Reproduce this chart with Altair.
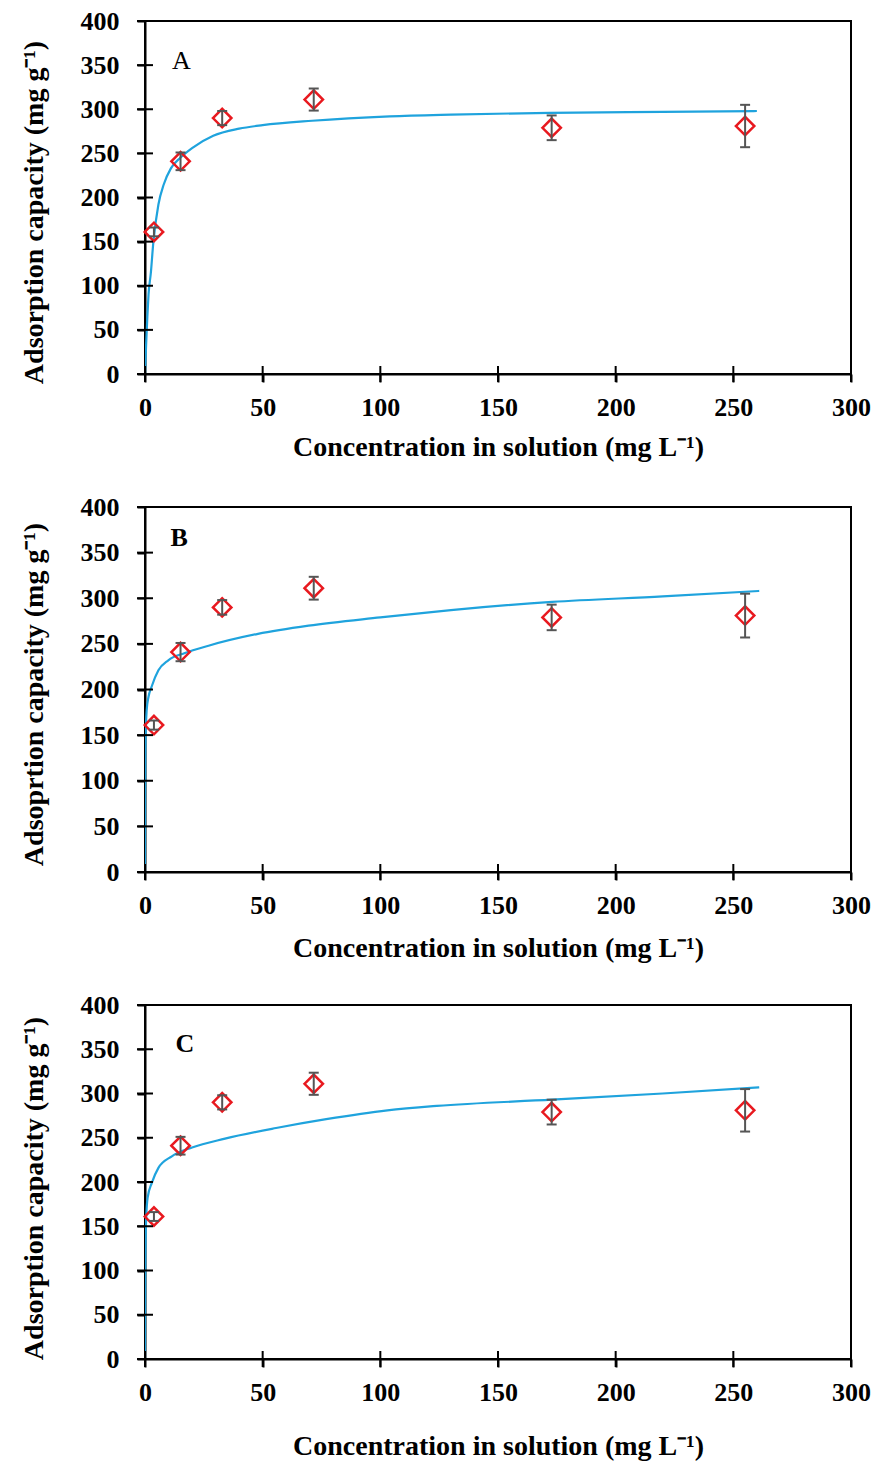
import altair as alt
import pandas as pd

# Measured equilibrium data (same set shown in every panel)
CONC = [3.8, 15.1, 32.8, 71.7, 172.8, 255.0]
QE = [161, 241, 290, 311, 279, 281]
QE_SD = [5, 10, 8, 12.5, 14, 24]

# Fitted isotherm curves, sampled along the concentration axis
FIT_A_C = [0, 0.5, 1, 1.5, 2.5, 3.5, 5.7, 8, 11, 15, 20, 29, 40, 50, 71, 104, 130, 172, 220, 260]
FIT_A_Q = [0, 35, 65, 90, 115, 148, 192, 215, 233, 245, 256, 270, 278, 282, 287, 292, 294, 296, 297, 298]

FIT_B_C = [0, 0.05, 0.15, 0.4, 0.7, 1.5, 2.8, 5.7, 9.9, 17, 27, 48, 69.5, 100, 130, 173, 220, 261]
FIT_B_Q = [0, 80, 130, 160, 177, 192, 203, 221, 232, 240, 248, 261, 270, 279, 287, 296, 302, 308]

FIT_C_C = [0, 0.1, 0.3, 0.6, 1.1, 2.9, 5.7, 11.4, 20, 34, 55.7, 77, 103, 124, 173, 220, 261]
FIT_C_Q = [0, 90, 140, 165, 182, 199, 216, 229, 239, 249, 261, 271, 281, 286, 293, 300, 307]

X_TICKS = [0, 50, 100, 150, 200, 250, 300]
Y_TICKS = [0, 50, 100, 150, 200, 250, 300, 350, 400]

FONT = "Liberation Serif"
BLUE = "#1fa3dd"
RED = "#e8191f"
GREY = "#555555"
PLOT_W = 706
X_TITLE = "Concentration  in solution (mg L\u207b\u00b9)"


def panel(fit_c, fit_q, letter, letter_c, letter_q, letter_weight, y_title,
          height, x_title_pad, y_title_pos):
    pts = pd.DataFrame({
        "c": CONC,
        "q": QE,
        "lo": [q - s for q, s in zip(QE, QE_SD)],
        "hi": [q + s for q, s in zip(QE, QE_SD)],
    })
    fit = pd.DataFrame({"c": fit_c, "q": fit_q})
    xs = alt.Scale(domain=[0, 300], nice=False, zero=True)
    ys = alt.Scale(domain=[0, 400], nice=False, zero=True)

    x_axis = alt.Axis(values=X_TICKS, title=X_TITLE, labelPadding=12,
                      titlePadding=x_title_pad)
    y_axis = alt.Axis(values=Y_TICKS, title=y_title, labelPadding=18,
                      titlePadding=32, titleY=y_title_pos)

    def xenc(field):
        return alt.X(field, scale=xs, axis=x_axis)

    def yenc(field):
        return alt.Y(field, scale=ys, axis=y_axis)

    curve = alt.Chart(fit).mark_line(
        color=BLUE, strokeWidth=2.2, interpolate="monotone", clip=True
    ).encode(x=xenc("c:Q"), y=yenc("q:Q"))

    bars = alt.Chart(pts).mark_rule(color=GREY, strokeWidth=2).encode(
        x=xenc("c:Q"), y=yenc("lo:Q"), y2="hi:Q",
    )
    cap_hi = alt.Chart(pts).mark_tick(
        orient="horizontal", size=10, thickness=2, color=GREY, opacity=1
    ).encode(x=xenc("c:Q"), y=yenc("hi:Q"))
    cap_lo = alt.Chart(pts).mark_tick(
        orient="horizontal", size=10, thickness=2, color=GREY, opacity=1
    ).encode(x=xenc("c:Q"), y=yenc("lo:Q"))
    diamonds = alt.Chart(pts).mark_point(
        shape="diamond", size=340, filled=False, color=RED, strokeWidth=2.5, opacity=1
    ).encode(x=xenc("c:Q"), y=yenc("q:Q"))

    # inner halves of the cross-style tick marks on both axes
    y_ticks = alt.Chart(pd.DataFrame({"v": Y_TICKS})).mark_tick(
        orient="horizontal", size=16, thickness=2, color="black", opacity=1
    ).encode(y=yenc("v:Q"), x=alt.value(0))
    x_ticks = alt.Chart(pd.DataFrame({"v": X_TICKS})).mark_tick(
        orient="vertical", size=16, thickness=2, color="black", opacity=1
    ).encode(x=xenc("v:Q"), y=alt.value(height))

    label = alt.Chart(pd.DataFrame({"c": [letter_c], "q": [letter_q], "t": [letter]})).mark_text(
        font=FONT, fontSize=26, fontWeight=letter_weight, color="black",
        align="center", baseline="middle",
    ).encode(x=xenc("c:Q"), y=yenc("q:Q"), text="t:N")

    return alt.layer(
        curve, diamonds, bars, cap_hi, cap_lo, y_ticks, x_ticks, label
    ).properties(width=PLOT_W, height=height)


panel_a = panel(FIT_A_C, FIT_A_Q, "A", 15.5, 355, "normal",
                "Adsorption capacity (mg g\u207b\u00b9)", 353, 13, 191)
panel_b = panel(FIT_B_C, FIT_B_Q, "B", 14.5, 366, "bold",
                "Adsoprtion capacity (mg g\u207b\u00b9)", 365, 16, 187)
panel_c = panel(FIT_C_C, FIT_C_Q, "C", 17, 356, "bold",
                "Adsorption capacity (mg g\u207b\u00b9)", 354, 27, 183)

chart = alt.vconcat(
    panel_a, panel_b, panel_c, spacing=133, bounds="flush"
).properties(
    padding={"left": 19, "top": 7, "right": 0, "bottom": 0},
    background="white",
).configure_view(
    stroke="black", strokeWidth=2
).configure_axis(
    labelFont=FONT, labelFontSize=26, labelFontWeight="bold", labelColor="black",
    titleFont=FONT, titleFontSize=28, titleFontWeight="bold", titleColor="black",
    domainColor="black", domainWidth=2, tickColor="black", tickWidth=2, tickSize=8,
    grid=False, labelFlush=False, labelOverlap=False,
)

chart.save("out.html", embed_options={"renderer": "svg", "actions": False})
